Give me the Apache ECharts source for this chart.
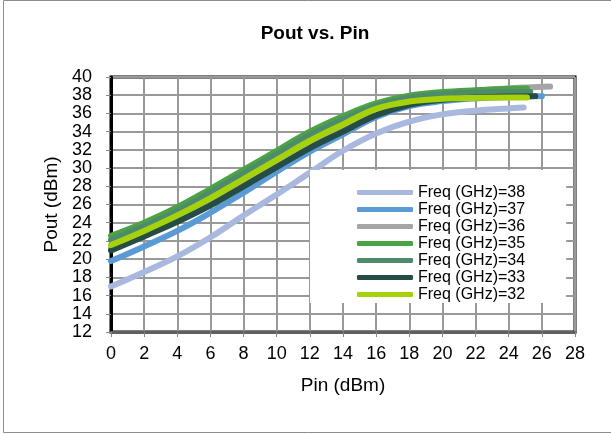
<!DOCTYPE html>
<html>
<head>
<meta charset="utf-8">
<title>Pout vs. Pin</title>
<script src="https://cdn.jsdelivr.net/npm/echarts@6/dist/echarts.min.js"></script>
<style>
  html, body { margin: 0; padding: 0; background: #fff; }
  #chart { width: 611px; height: 434px; }
</style>
</head>
<body>
<div id="chart"></div>
<script>
// Pin steps (dBm), the last point of each curve uses lastPin
const pinSteps = [0, 2, 4, 6, 8, 10, 12, 14, 16, 18, 20, 22, 24]
const freqs = ['38', '37', '36', '35', '34', '33', '32']
const lastPin = [24.9, 26.0, 26.5, 25.1, 25.3, 25.6, 25.1]

// Pout (dBm), one value per pinSteps entry + the end point
const pout38 = [17.0, 18.6, 20.3, 22.4, 24.8, 27.1, 29.5, 31.9, 33.8, 35.1, 35.9, 36.3, 36.55, 36.65]
const pout37 = [19.8, 21.4, 23.1, 25.1, 27.3, 29.6, 31.8, 33.7, 35.6, 36.8, 37.35, 37.65, 37.8, 37.9]
const pout36 = [21.2, 22.8, 24.4, 26.3, 28.4, 30.5, 32.6, 34.4, 36.2, 37.4, 38.1, 38.5, 38.75, 38.95]
const pout35 = [22.55, 24.0, 25.7, 27.7, 29.8, 31.9, 34.0, 35.7, 37.1, 37.95, 38.35, 38.55, 38.7, 38.75]
const pout34 = [22.1, 23.6, 25.3, 27.3, 29.4, 31.5, 33.6, 35.3, 36.8, 37.7, 38.1, 38.3, 38.35, 38.35]
const pout33 = [20.95, 22.5, 24.1, 25.9, 28.0, 30.1, 32.2, 34.0, 35.8, 36.95, 37.5, 37.75, 37.85, 37.9]
const pout32 = [21.55, 23.1, 24.8, 26.7, 28.8, 30.9, 33.0, 34.8, 36.5, 37.3, 37.6, 37.7, 37.75, 37.75]

const poutAll = [pout38, pout37, pout36, pout35, pout34, pout33, pout32]
const colors = ['#a9b8de', '#5b9bd5', '#a5a5a5', '#4ba443', '#4e8a6c', '#264d45', '#a5d20b']

const font = "'Liberation Sans', Arial, sans-serif"

function pairs(vals, endPin) {
  const pts = pinSteps.map((p, i) => [p, vals[i]])
  pts.push([endPin, vals[vals.length - 1]])
  return pts
}

const chart = echarts.init(document.getElementById('chart'))

chart.setOption({
  animation: false,
  color: colors,
  graphic: [{
    type: 'rect',
    silent: true,
    shape: { x: 3.5, y: 0.5, width: 640, height: 432 },
    style: { fill: 'none', stroke: '#8c8c8c', lineWidth: 1 }
  }],
  title: {
    text: 'Pout vs. Pin',
    left: 310,
    textAlign: 'center',
    top: 19,
    textStyle: { fontFamily: font, fontSize: 19, fontWeight: 'bold', color: '#000' }
  },
  grid: {
    left: 111,
    right: 36,
    top: 77,
    bottom: 102,
    show: true,
    borderColor: '#000',
    borderWidth: 3
  },
  legend: {
    orient: 'vertical',
    left: 310,
    top: 170,
    padding: [14, 41, 0, 47],
    backgroundColor: '#fff',
    icon: 'roundRect',
    itemWidth: 56,
    itemHeight: 5,
    itemGap: 0,
    textStyle: { fontFamily: font, fontSize: 16, lineHeight: 17, color: '#000' },
    data: freqs.map(f => 'Freq (GHz)=' + f)
  },
  xAxis: {
    type: 'value',
    min: 0,
    max: 28,
    interval: 2,
    name: 'Pin (dBm)',
    nameLocation: 'middle',
    nameGap: 44,
    nameTextStyle: { fontFamily: font, fontSize: 19, color: '#000' },
    axisLine: { lineStyle: { color: '#606060', width: 3 } },
    axisTick: { show: true, length: 5, lineStyle: { color: '#888', width: 1 } },
    axisLabel: { fontFamily: font, fontSize: 18, color: '#000', margin: 13 },
    splitLine: { lineStyle: { color: '#999', width: 2 } }
  },
  yAxis: {
    type: 'value',
    min: 12,
    max: 40,
    interval: 2,
    name: 'Pout (dBm)',
    nameLocation: 'middle',
    nameGap: 50,
    nameTextStyle: { fontFamily: font, fontSize: 19, color: '#000' },
    axisLine: { show: true, lineStyle: { color: '#000', width: 3 } },
    axisTick: { show: true, length: 5, lineStyle: { color: '#888', width: 1 } },
    axisLabel: { fontFamily: font, fontSize: 18, color: '#000', margin: 19 },
    splitLine: { lineStyle: { color: '#999', width: 2 } }
  },
  series: freqs.map((f, i) => ({
    name: 'Freq (GHz)=' + f,
    type: 'line',
    smooth: 0.4,
    symbol: 'none',
    lineStyle: { width: 6, cap: 'round', color: colors[i] },
    data: pairs(poutAll[i], lastPin[i])
  }))
})
</script>
</body>
</html>
